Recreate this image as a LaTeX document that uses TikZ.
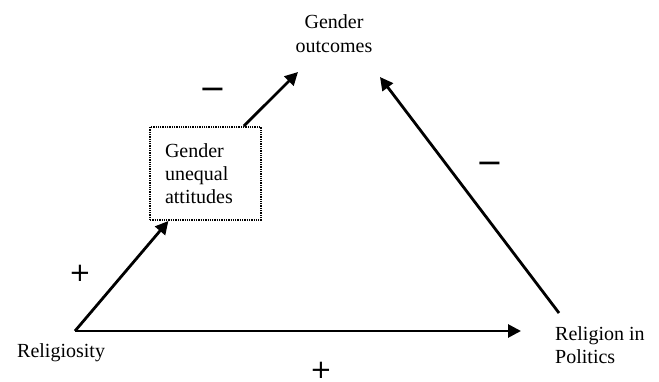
\documentclass[tikz,border=0pt]{standalone}
\usepackage{fontspec}
\setmainfont{Liberation Serif}
\newfontfamily\signfont{DejaVu Sans}
\usetikzlibrary{arrows.meta}
\tikzset{
    concept/.style={inner sep=0, font=\fontsize{20}{24}\selectfont},
    attbox/.style={draw, dash pattern=on 1.3pt off 1pt, line width=2pt,
                minimum width=111pt, minimum height=93pt, text width=81pt,
                inner xsep=15pt, inner ysep=0, align=left,
                font=\fontsize{20}{23}\selectfont},
    link/.style={-{Triangle[length=13pt,width=13pt]}, line width=2.8pt},
    %
    plussign/.style={inner sep=0, text height=16.4pt, text depth=0pt,
                font=\signfont\fontsize{26}{26}\selectfont},
    minussign/.style={inner sep=0, font=\signfont\fontsize{32}{32}\selectfont},
}

\begin{document}
\begin{tikzpicture}[x=1pt, y=-1pt]
        \useasboundingbox (0,0) rectangle (659,382);
        %
        % Concepts
        \node[concept, anchor=north, align=center] (out) at (334,14.3) {Gender\\outcomes};
        \node[attbox] (att) at (205.5,173.5) {Gender\\unequal\\attitudes};
        \node[concept, anchor=base west] (rel) at (17,357) {Religiosity};
        \node[concept, anchor=north west, align=left,
              font=\fontsize{20}{23}\selectfont] (pol) at (555,326.3) {Religion in\\Politics};
        %
        % Arrow ends
        \coordinate (relpt) at (75,331);
        \coordinate (outL) at (298,72);
        \coordinate (outR) at (380,77);
        \coordinate (polpt) at (559,313);
        \coordinate (polL) at (521,331);
        %
        % Links
        \draw[link] (relpt) -- (att.232);
        \draw[link] (att.51) -- (outL);
        \draw[link] (relpt) -- (polL);
        \draw[link] (polpt) -- (outR);
        %
        % Signs
        \node[minussign] (mTop) at (212.5,94) {−};
        \node[minussign] (mRight) at (490,168) {−};
        \node[plussign] (pLeft) at (80,273) {+};
        \node[plussign] (pBottom) at (321,370) {+};
    \end{tikzpicture}
\end{document}
